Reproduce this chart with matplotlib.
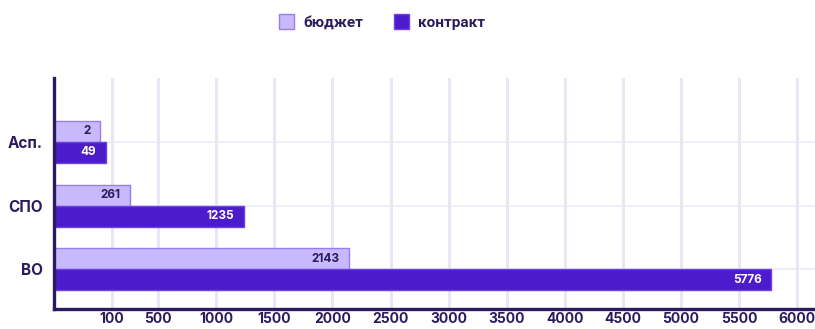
import matplotlib.pyplot as plt
import numpy as np

categories = ["ВО", "СПО", "Асп."]
budget = [2143, 261, 2]
contract = [5776, 1235, 49]
tick_values = [100, 500, 1000, 1500, 2000, 2500, 3000, 3500, 4000, 4500, 5000, 5500, 6000]

dark = "#2b1a5c"
light_fill = "#c7b9fb"
light_edge = "#9a7cf2"
main_fill = "#4c1bcc"
main_edge = "#6c42e6"
grid_col = "#e9e7f4"

plt.rcParams["font.family"] = ["Inter", "DejaVu Sans"]

fig = plt.figure(figsize=(8.15, 3.29), dpi=100)
ax = fig.add_axes([54 / 815, 20 / 329, 761 / 815, 231 / 329])

xmin, xmax = -396, 6153
y = np.arange(len(categories))
h = 0.33

b1 = ax.barh(y + h / 2, np.array(budget) - xmin, left=xmin, height=h,
             color=light_fill, edgecolor=light_edge, linewidth=1, label="бюджет", zorder=3)
b2 = ax.barh(y - h / 2, np.array(contract) - xmin, left=xmin, height=h,
             color=main_fill, edgecolor=main_edge, linewidth=1, label="контракт", zorder=3)

# value labels at the inner end of each bar
for val, yy in zip(budget, y + h / 2):
    ax.annotate(str(val), (val, yy), xytext=(-7, 0), textcoords="offset points",
                ha="right", va="center", fontsize=8.5, fontweight="bold", color=dark, zorder=4)
for val, yy in zip(contract, y - h / 2):
    ax.annotate(str(val), (val, yy), xytext=(-7, 0), textcoords="offset points",
                ha="right", va="center", fontsize=8.5, fontweight="bold", color="white", zorder=4)

ax.set_xlim(xmin, xmax)
ax.set_ylim(-0.62, 3.0)

ax.set_xticks(tick_values)
ax.set_xticklabels([str(t) for t in tick_values])
ax.set_yticks(y)
ax.set_yticklabels(categories)
ax.tick_params(axis="x", length=0, pad=2.5, labelsize=10, labelcolor=dark)
ax.tick_params(axis="y", length=0, pad=8, labelsize=11, labelcolor=dark)
for lab in ax.get_xticklabels() + ax.get_yticklabels():
    lab.set_fontweight("bold")

ax.grid(True, axis="x", color=grid_col, linewidth=2.2, zorder=0)
for yy in y:
    ax.axhline(yy, color="#ecebfa", linewidth=1.2, zorder=1)

for side in ["top", "right"]:
    ax.spines[side].set_visible(False)
for side in ["left", "bottom"]:
    ax.spines[side].set_color(dark)
    ax.spines[side].set_linewidth(2.4)
    ax.spines[side].set_zorder(5)

leg = fig.legend(handles=[b1, b2], loc="center", bbox_to_anchor=(382 / 815, 1 - 22 / 329),
                 ncol=2, frameon=False, handlelength=1.0, handleheight=1.1,
                 handletextpad=0.6, columnspacing=2.0,
                 prop={"family": ["Roboto", "DejaVu Sans"], "weight": "bold", "size": 11})
for t in leg.get_texts():
    t.set_color(dark)

fig.savefig("out.png", dpi=100)
